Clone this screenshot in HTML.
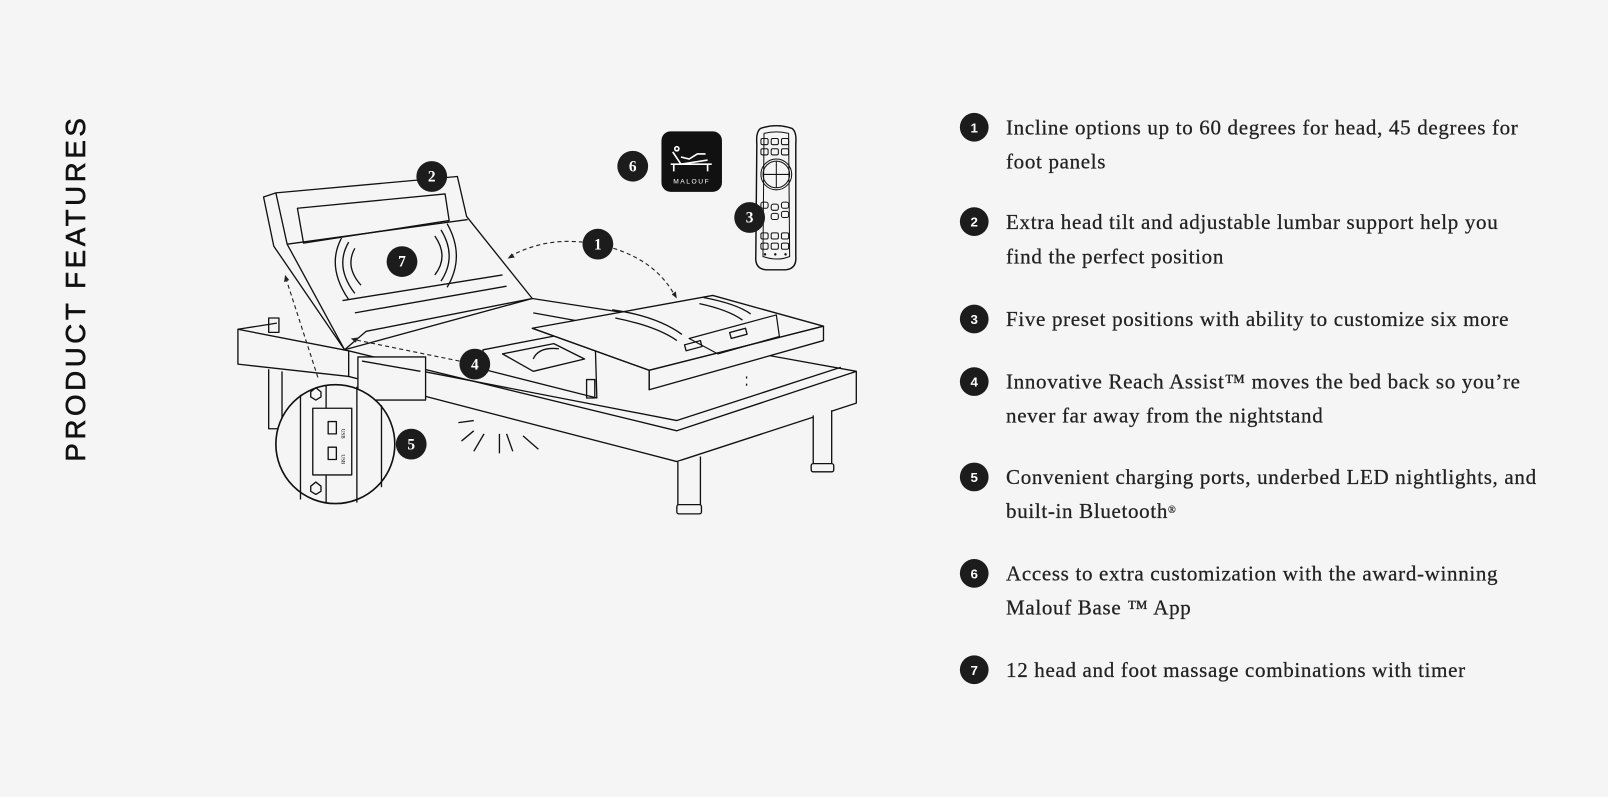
<!DOCTYPE html>
<html><head><meta charset="utf-8"><style>
html,body{margin:0;padding:0;background:#f5f5f5;}
svg{display:block}
.t{font-family:"Liberation Serif",serif;font-size:20.5px;letter-spacing:0.65px;fill:#222;stroke:#222;stroke-width:0.25}
.n{font-family:"Liberation Serif",serif;font-size:15px;font-weight:bold;fill:#fff;text-anchor:middle}
.ns{font-family:"Liberation Sans",sans-serif;font-size:13px;font-weight:bold;fill:#fff;text-anchor:middle}
</style></head><body>
<svg width="1608" height="797" viewBox="0 0 1568 777" xmlns="http://www.w3.org/2000/svg">
<rect width="1568" height="777" fill="#f5f5f5"/>
<text transform="translate(83,450) rotate(-90)" font-family="Liberation Sans,sans-serif" font-size="27" letter-spacing="3.5" fill="#111" stroke="#111" stroke-width="0.6">PRODUCT FEATURES</text>

<g stroke="#111" fill="none" stroke-width="1.3" stroke-linejoin="round">
<polygon points="232,321 340,342 340,367 232,355" fill="#f5f5f5"/>
<polygon points="340,342 660,420 835,362 835,393 660,450 340,367" fill="#f5f5f5"/>
<line x1="232" y1="321" x2="270" y2="315"/>
<polyline points="412,362 660,410 820,358"/>
<line x1="520" y1="305" x2="835" y2="362"/>
<rect x="349" y="348" width="66" height="42" fill="#f5f5f5"/>
<line x1="353" y1="352" x2="410" y2="362"/>
<path d="M661,450 V495 H683 V445" fill="#f5f5f5"/><rect x="660" y="492" width="24" height="9" rx="2" fill="#f5f5f5"/>
<path d="M793,405 V453 H811 V400" fill="#f5f5f5"/><rect x="791" y="452" width="22" height="8" rx="2" fill="#f5f5f5"/>
<path d="M262,360 V418 H275 V362"/>
<rect x="262" y="310" width="10" height="14"/>
<polyline points="336,341 519,291 610,305"/>
<polygon points="471,341 580,320 582,388 471,360" fill="#f5f5f5"/>
<path d="M490,345 L540,335 L570,350 L520,362 Z"/>
<path d="M520,350 Q525,338 545,340"/>
<rect x="572" y="370" width="8" height="18"/>
<polygon points="257,192 269,188 446,172 455,211 519,291 357,323 336,341 267,240" fill="#f5f5f5"/>
<polyline points="269,188 280,238 336,341"/>
<polygon points="290,203 434,189 438,215 296,237"/>
<line x1="280" y1="238" x2="456" y2="214"/>
<line x1="334" y1="293" x2="490" y2="268"/>
<line x1="346" y1="305" x2="494" y2="279"/>
<polygon points="519,320 695,288 803,318 633,361" fill="#f5f5f5"/>
<polygon points="633,361 803,318 803,332 633,380" fill="#f5f5f5"/>
<line x1="633" y1="361" x2="633" y2="380"/>
<line x1="519" y1="320" x2="633" y2="361"/>
<path d="M672,330 L757,307 L760,328 L700,345 Z" stroke-width="1.2"/>
<rect x="712" y="322" width="16" height="6" transform="rotate(-15 720 325)"/>
<rect x="668" y="334" width="16" height="6" transform="rotate(-15 676 337)"/>
<line x1="728" y1="367" x2="728" y2="369"/><line x1="728" y1="374" x2="728" y2="376"/>
<path d="M346,242 Q336,260 352,278"/><path d="M340,236 Q326,260 346,286"/>
<path d="M333,232 Q318,260 340,292"/>
<path d="M424,230 Q438,250 424,268"/><path d="M430,224 Q446,250 430,274"/><path d="M436,218 Q454,250 436,280"/>
<path d="M600,310 Q640,318 660,332"/><path d="M597,302 Q640,308 665,326"/>
<path d="M682,296 Q710,302 724,312"/><path d="M686,290 Q718,296 732,306"/>
<line x1="447" y1="412" x2="462" y2="410"/><line x1="450" y1="430" x2="462" y2="420"/>
<line x1="462" y1="440" x2="472" y2="423"/><line x1="487" y1="442" x2="487" y2="423"/>
<line x1="500" y1="440" x2="494" y2="423"/><line x1="525" y1="438" x2="510" y2="425"/>
<circle cx="327" cy="433" r="58" fill="#f5f5f5" stroke-width="1.6"/>
<line x1="293" y1="385" x2="293" y2="487"/><line x1="318" y1="376" x2="318" y2="490"/>
<line x1="348" y1="377" x2="348" y2="490"/><line x1="372" y1="395" x2="372" y2="475"/>
<rect x="305" y="398" width="38" height="65" fill="#f5f5f5"/>
<rect x="320" y="411" width="8" height="12"/><rect x="320" y="436" width="8" height="12"/>
<polygon points="303,382 308,378 313,382 313,387 308,390 303,387"/>
<polygon points="303,474 308,470 313,474 313,479 308,482 303,479"/>
</g>
<text x="333" y="418" font-size="5" transform="rotate(90 333 418)" font-family="Liberation Serif">USB</text>
<text x="333" y="443" font-size="5" transform="rotate(90 333 443)" font-family="Liberation Serif">USB</text>
<g stroke="#222" fill="none" stroke-width="1.1" stroke-dasharray="4,3">
<path d="M497,250 Q530,232 568,236"/>
<path d="M598,242 Q640,255 658,288"/>
<line x1="448" y1="352" x2="345" y2="331"/>
<line x1="310" y1="368" x2="279" y2="272"/>
</g>
<g fill="#222"><path d="M495,252 l7,-1 l-3,-4z"/><path d="M660,291 l-1,-7 l-4,3z"/>
<path d="M342,330 l7,-1 l-2,5z"/><path d="M278,268 l-1,7 l5,-2z"/></g>
<rect x="645" y="128" width="59" height="59" rx="9" fill="#111"/>
<g stroke="#fff" stroke-width="1.6" fill="none"><circle cx="660" cy="145" r="2"/><path d="M656,148 L664,160 L690,156"/><path d="M664,153 L672,155 L680,150 L688,150"/><line x1="654" y1="160" x2="694" y2="160"/><line x1="657" y1="160" x2="657" y2="167"/><line x1="690" y1="160" x2="690" y2="167"/></g>
<text x="674.5" y="179" font-family="Liberation Sans,sans-serif" font-size="6.5" letter-spacing="1.5" fill="#fff" text-anchor="middle">MALOUF</text>
<g stroke="#111" fill="none" stroke-width="1.4">
<path d="M742,125 Q757,120 772,125 Q777,128 776,140 L776,250 Q777,262 766,263 L747,263 Q736,262 737,250 L738,140 Q737,128 742,125Z" fill="#f5f5f5"/>
<path d="M745,130 Q757,127 769,130 L770,250 Q758,255 744,250 Z" stroke-width="1"/>
<g stroke-width="1"><rect x="742" y="135" width="7" height="6" rx="1.5"/><rect x="752" y="135" width="7" height="6" rx="1.5"/><rect x="762" y="135" width="7" height="6" rx="1.5"/>
<rect x="742" y="145" width="7" height="6" rx="1.5"/><rect x="752" y="145" width="7" height="6" rx="1.5"/><rect x="762" y="145" width="7" height="6" rx="1.5"/>
<circle cx="757" cy="170" r="15"/><circle cx="757" cy="170" r="13"/><line x1="744" y1="170" x2="770" y2="170"/><line x1="757" y1="157" x2="757" y2="183"/>
<rect x="742" y="197" width="7" height="6" rx="2"/><rect x="752" y="199" width="7" height="6" rx="2"/><rect x="762" y="197" width="7" height="6" rx="2"/>
<rect x="752" y="208" width="7" height="6" rx="2"/><rect x="762" y="206" width="7" height="6" rx="2"/>
<rect x="742" y="227" width="7" height="6" rx="1.5"/><rect x="752" y="227" width="7" height="6" rx="1.5"/><rect x="762" y="227" width="7" height="6" rx="1.5"/>
<rect x="742" y="237" width="7" height="6" rx="1.5"/><rect x="752" y="237" width="7" height="6" rx="1.5"/><rect x="762" y="237" width="7" height="6" rx="1.5"/></g>
</g>
<g fill="#111"><circle cx="746" cy="248" r="1.2"/><circle cx="756" cy="248" r="1.2"/><circle cx="766" cy="248" r="1.2"/></g>
<g fill="#1c1c1c">
<circle cx="583" cy="238" r="15"/><circle cx="421" cy="172" r="15"/><circle cx="731" cy="212" r="15"/><circle cx="463" cy="355" r="15"/><circle cx="401" cy="433" r="15"/><circle cx="617" cy="162" r="15"/><circle cx="392" cy="255" r="15"/>
</g>
<text class="n" x="583" y="243">1</text><text class="n" x="421" y="177">2</text><text class="n" x="731" y="217">3</text><text class="n" x="463" y="360">4</text><text class="n" x="401" y="438">5</text><text class="n" x="617" y="167">6</text><text class="n" x="392" y="260">7</text>

<g fill="#1c1c1c">
<circle cx="950" cy="124" r="14"/><circle cx="950" cy="216" r="14"/><circle cx="950" cy="311" r="14"/><circle cx="950" cy="372" r="14"/><circle cx="950" cy="465" r="14"/><circle cx="950" cy="559" r="14"/><circle cx="950" cy="653" r="14"/>
</g>
<text class="ns" x="950" y="129">1</text><text class="ns" x="950" y="221">2</text><text class="ns" x="950" y="316">3</text><text class="ns" x="950" y="377">4</text><text class="ns" x="950" y="470">5</text><text class="ns" x="950" y="564">6</text><text class="ns" x="950" y="658">7</text>
<text class="t" x="981" y="131">Incline options up to 60 degrees for head, 45 degrees for</text>
<text class="t" x="981" y="164">foot panels</text>
<text class="t" x="981" y="223">Extra head tilt and adjustable lumbar support help you</text>
<text class="t" x="981" y="257">find the perfect position</text>
<text class="t" x="981" y="318">Five preset positions with ability to customize six more</text>
<text class="t" x="981" y="379">Innovative Reach Assist™ moves the bed back so you’re</text>
<text class="t" x="981" y="412">never far away from the nightstand</text>
<text class="t" x="981" y="472">Convenient charging ports, underbed LED nightlights, and</text>
<text class="t" x="981" y="505">built-in Bluetooth<tspan font-size="10" dy="-5">®</tspan></text>
<text class="t" x="981" y="566">Access to extra customization with the award-winning</text>
<text class="t" x="981" y="599">Malouf Base ™ App</text>
<text class="t" x="981" y="660">12 head and foot massage combinations with timer</text>
</svg>
</body></html>
